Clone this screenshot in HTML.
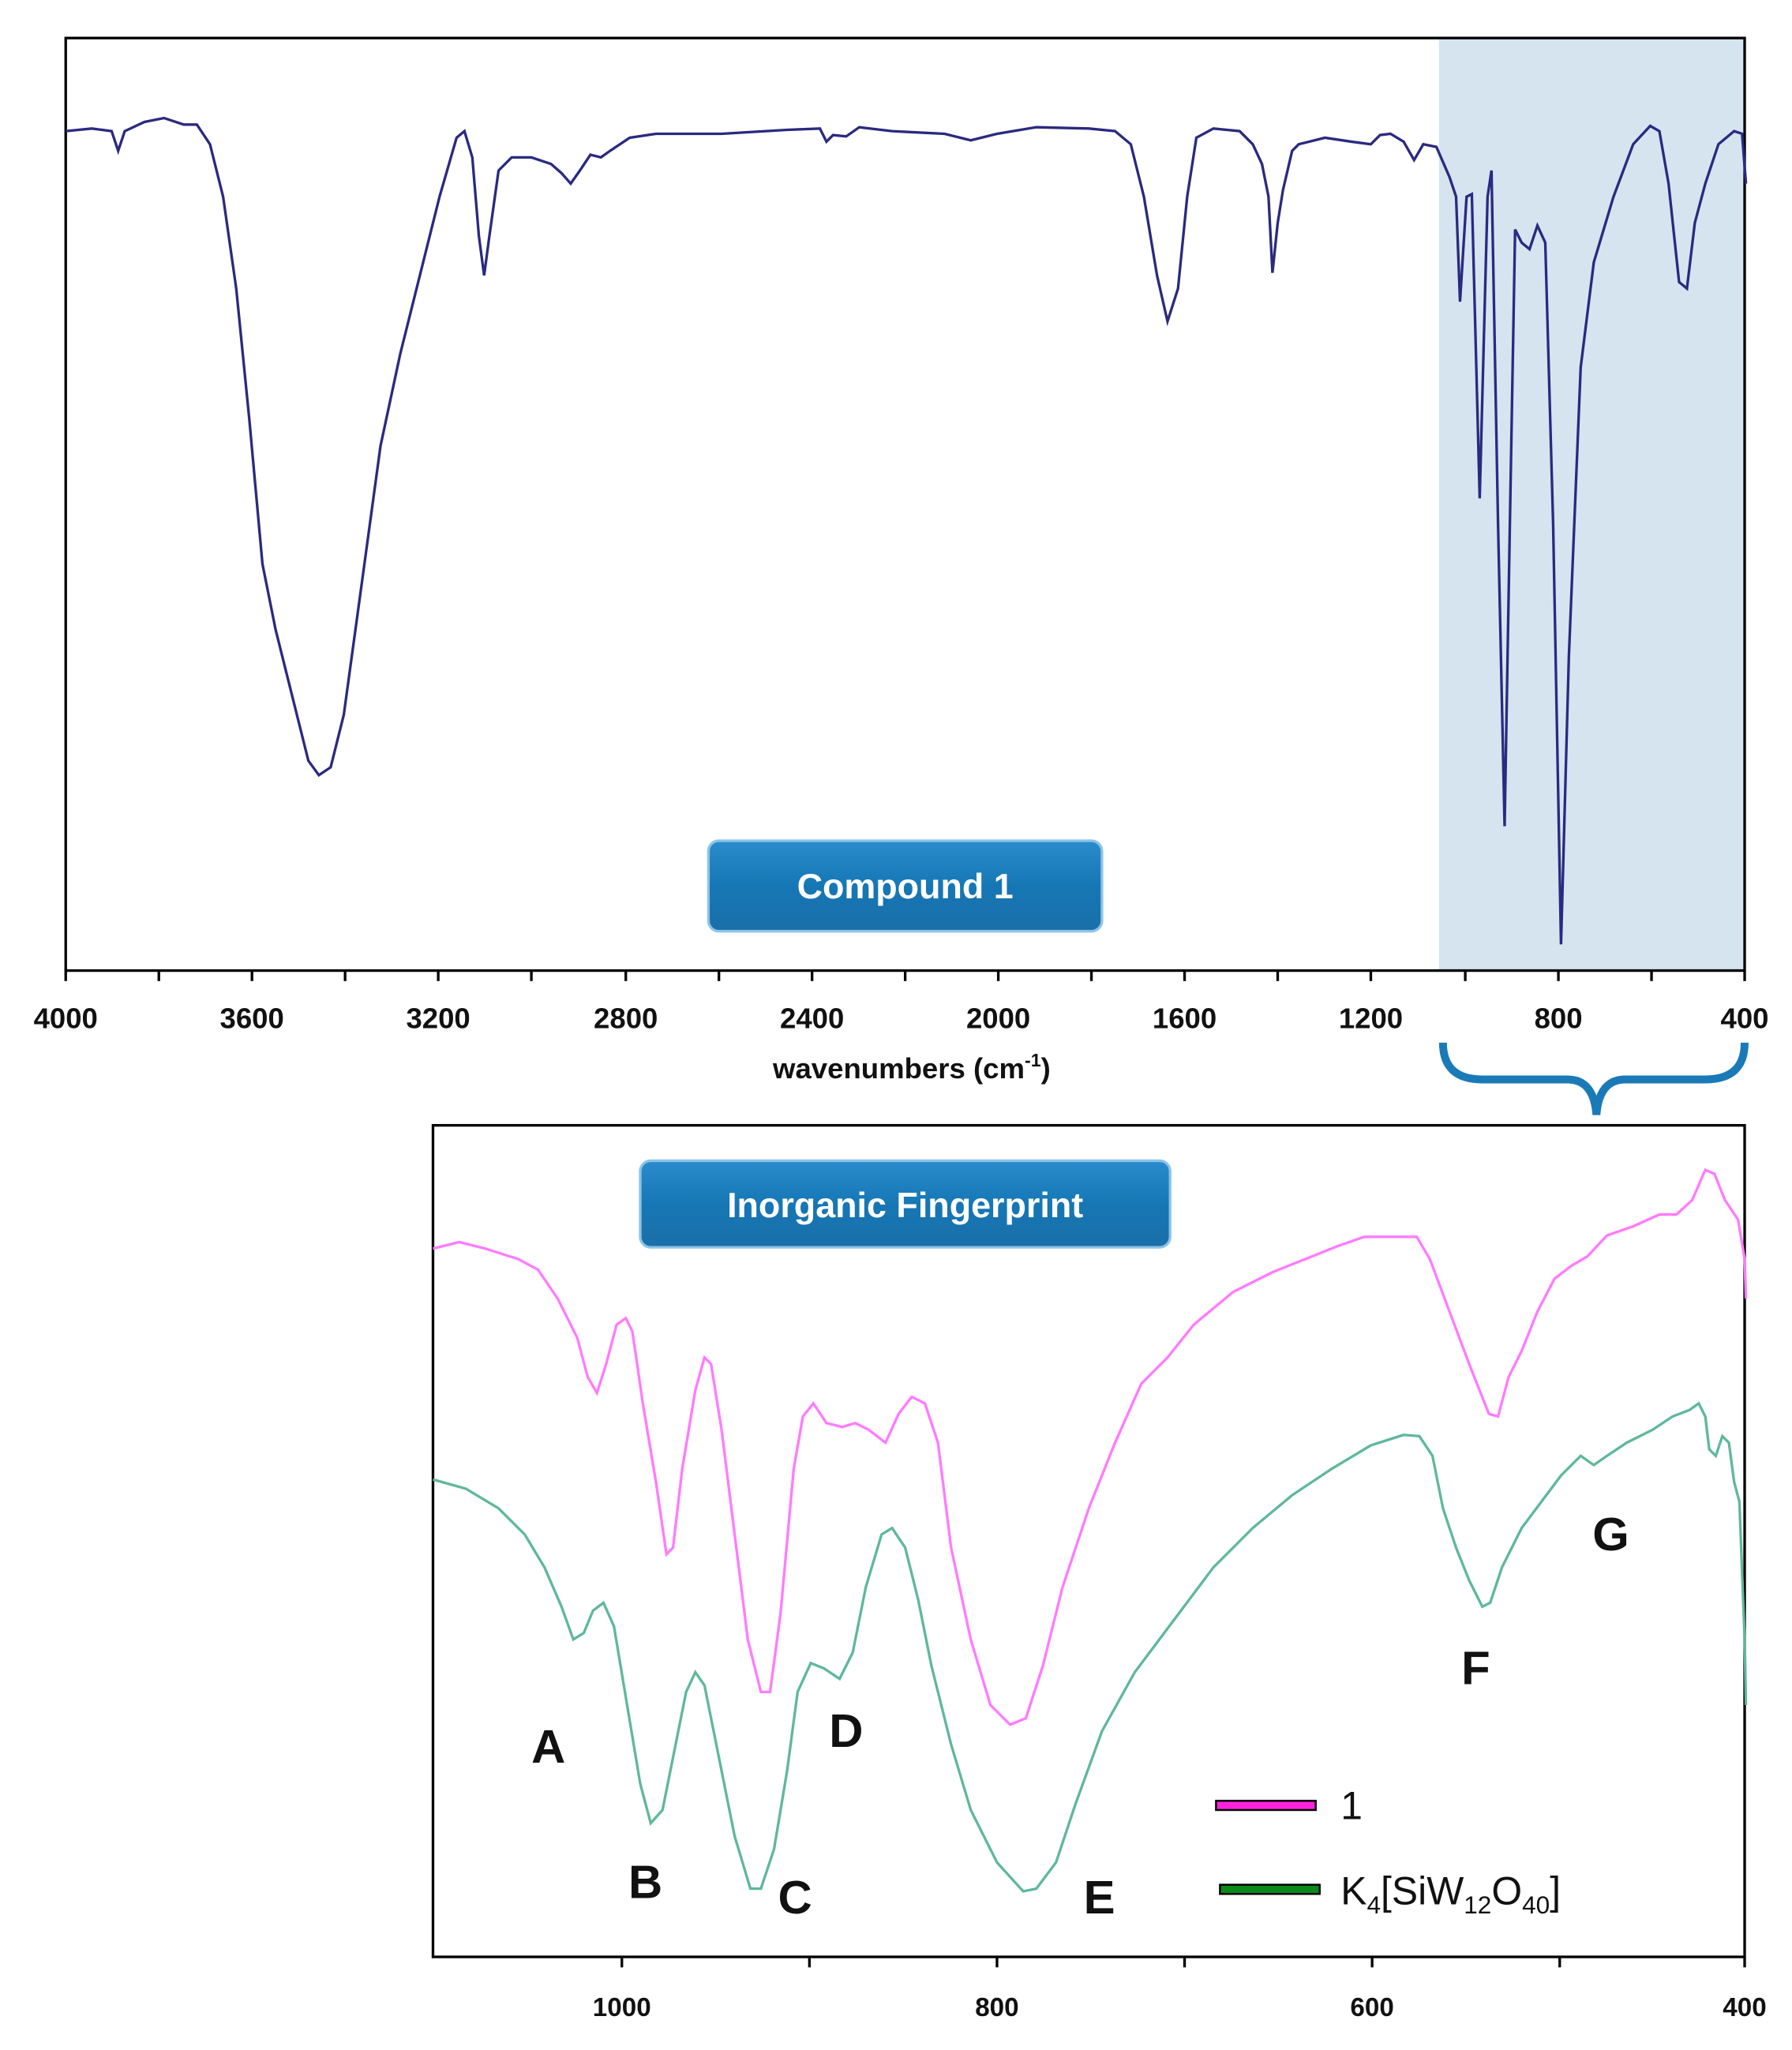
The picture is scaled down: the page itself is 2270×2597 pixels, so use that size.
<!DOCTYPE html>
<html><head><meta charset="utf-8"><style>
html,body{margin:0;padding:0;background:#fff;}
svg{display:block;}
text{font-family:"Liberation Sans",sans-serif;}
</style></head><body>
<svg width="2270" height="2597" viewBox="0 0 1366 1563" xmlns="http://www.w3.org/2000/svg">
<defs>
<linearGradient id="btn" x1="0" y1="0" x2="0" y2="1">
<stop offset="0" stop-color="#2a8ccc"/><stop offset="0.5" stop-color="#1677b5"/><stop offset="1" stop-color="#1a6fa8"/>
</linearGradient>
</defs>
<!-- top plot -->
<rect x="1097" y="29" width="233" height="711" fill="#d6e4f0"/>
<rect x="50" y="29" width="1280" height="711" fill="none" stroke="#000" stroke-width="2"/>
<g stroke="#000" stroke-width="2">
<line x1="50" y1="740" x2="50" y2="748"/><line x1="121" y1="740" x2="121" y2="748"/><line x1="192" y1="740" x2="192" y2="748"/><line x1="263" y1="740" x2="263" y2="748"/><line x1="334" y1="740" x2="334" y2="748"/><line x1="405" y1="740" x2="405" y2="748"/><line x1="477" y1="740" x2="477" y2="748"/><line x1="548" y1="740" x2="548" y2="748"/><line x1="619" y1="740" x2="619" y2="748"/><line x1="690" y1="740" x2="690" y2="748"/><line x1="761" y1="740" x2="761" y2="748"/><line x1="832" y1="740" x2="832" y2="748"/><line x1="903" y1="740" x2="903" y2="748"/><line x1="974" y1="740" x2="974" y2="748"/><line x1="1045" y1="740" x2="1045" y2="748"/><line x1="1117" y1="740" x2="1117" y2="748"/><line x1="1188" y1="740" x2="1188" y2="748"/><line x1="1259" y1="740" x2="1259" y2="748"/><line x1="1330" y1="740" x2="1330" y2="748"/>
</g>
<g font-size="22" font-weight="bold" text-anchor="middle" fill="#111">
<text x="50" y="784">4000</text><text x="192" y="784">3600</text><text x="334" y="784">3200</text><text x="477" y="784">2800</text><text x="619" y="784">2400</text><text x="761" y="784">2000</text><text x="903" y="784">1600</text><text x="1045" y="784">1200</text><text x="1188" y="784">800</text><text x="1330" y="784">400</text>
<text x="695" y="822">wavenumbers (cm<tspan font-size="14" dy="-9">-1</tspan><tspan dy="9">)</tspan></text>
</g>
<polyline fill="none" stroke="#2a2a80" stroke-width="2" points="50,100 70,98 85,100 90,115 95,100 110,93 125,90 140,95 150,95 160,110 170,150 180,220 190,320 200,430 210,480 225,540 235,580 243,591 252,585 262,545 275,450 290,340 305,270 320,210 335,150 348,105 354,100 360,120 365,180 369,210 373,180 380,130 390,120 405,120 420,125 428,132 435,140 442,130 450,118 458,120 465,115 480,105 500,102 550,102 600,99 625,98 630,108 635,103 645,104 655,97 680,100 720,102 740,107 760,102 790,97 830,98 850,100 862,110 872,150 882,210 890,245 898,220 905,150 912,105 925,98 945,100 955,110 962,125 967,150 970,208 974,170 978,145 985,115 990,110 1010,105 1030,108 1045,110 1052,103 1060,102 1070,108 1078,122 1085,110 1095,112 1105,135 1110,150 1113,230 1118,150 1122,148 1128,380 1134,150 1137,130 1142,400 1147,630 1151,400 1155,175 1160,185 1166,190 1172,172 1178,185 1184,400 1190,720 1196,500 1205,280 1215,200 1230,150 1245,110 1258,96 1265,100 1272,140 1280,215 1286,220 1292,170 1300,140 1310,110 1322,100 1328,102 1331,140"/>
<rect x="540" y="641" width="300" height="69" rx="8" fill="url(#btn)" stroke="#8cc4e8" stroke-width="2"/>
<text x="690" y="685" font-size="27" font-weight="bold" fill="#fff" text-anchor="middle">Compound 1</text>
<!-- brace -->
<path d="M1100,795 Q1100,823 1130,823 L1195,823 Q1215,823 1217,850 Q1219,823 1239,823 L1300,823 Q1330,823 1330,795" fill="none" stroke="#1a7ab8" stroke-width="6"/>
<!-- bottom plot -->
<rect x="330" y="858" width="1000" height="634" fill="none" stroke="#000" stroke-width="2"/>
<g stroke="#000" stroke-width="2">
<line x1="474" y1="1492" x2="474" y2="1500"/><line x1="617" y1="1492" x2="617" y2="1500"/><line x1="760" y1="1492" x2="760" y2="1500"/><line x1="903" y1="1492" x2="903" y2="1500"/><line x1="1046" y1="1492" x2="1046" y2="1500"/><line x1="1189" y1="1492" x2="1189" y2="1500"/><line x1="1330" y1="1492" x2="1330" y2="1500"/>
</g>
<g font-size="20" font-weight="bold" text-anchor="middle" fill="#111">
<text x="474" y="1537">1000</text><text x="760" y="1537">800</text><text x="1046" y="1537">600</text><text x="1330" y="1537">400</text>
</g>
<polyline fill="none" stroke="#ff7bff" stroke-width="2" points="330,952 350,947 370,952 395,960 410,968 425,990 440,1020 448,1050 455,1062 462,1040 470,1010 477,1005 482,1015 490,1070 500,1130 508,1185 513,1180 520,1120 530,1060 537,1035 542,1040 550,1090 560,1170 570,1250 580,1290 587,1290 595,1230 605,1120 612,1080 620,1070 630,1085 642,1088 652,1085 662,1090 675,1100 685,1078 695,1065 705,1070 715,1100 725,1180 740,1250 755,1300 770,1315 782,1310 795,1270 810,1210 830,1150 850,1100 870,1055 890,1035 910,1010 940,985 970,970 1000,958 1020,950 1040,943 1080,943 1090,960 1105,1000 1120,1040 1135,1078 1142,1080 1150,1050 1160,1030 1172,1000 1185,975 1198,965 1210,958 1225,942 1245,935 1265,926 1278,926 1290,915 1300,892 1307,895 1315,915 1325,930 1330,960 1331,990"/>
<polyline fill="none" stroke="#5fb89a" stroke-width="2" points="330,1128 355,1135 380,1150 400,1170 415,1195 428,1225 437,1250 445,1245 452,1228 460,1222 468,1240 478,1300 488,1360 496,1390 505,1380 515,1330 523,1290 530,1275 537,1285 548,1340 560,1400 572,1440 580,1440 590,1410 600,1350 608,1290 618,1268 628,1272 640,1280 650,1260 660,1210 672,1170 680,1165 690,1180 700,1220 710,1270 725,1330 740,1380 760,1420 780,1442 790,1440 805,1420 820,1375 840,1320 865,1275 895,1235 925,1195 955,1165 985,1140 1015,1120 1045,1102 1070,1094 1082,1095 1092,1110 1100,1150 1110,1180 1120,1205 1130,1225 1136,1222 1145,1195 1160,1165 1175,1145 1190,1125 1205,1110 1215,1117 1225,1110 1240,1100 1260,1090 1275,1080 1288,1075 1295,1070 1300,1080 1303,1105 1308,1110 1313,1095 1318,1100 1322,1130 1326,1145 1330,1250 1331,1300"/>
<rect x="488" y="885" width="404" height="66" rx="8" fill="url(#btn)" stroke="#8cc4e8" stroke-width="2"/>
<text x="690" y="928" font-size="27" font-weight="bold" fill="#fff" text-anchor="middle">Inorganic Fingerprint</text>
<g font-size="36" font-weight="bold" text-anchor="middle" fill="#111">
<text x="418" y="1344">A</text><text x="492" y="1447">B</text><text x="606" y="1459">C</text><text x="645" y="1332">D</text><text x="838" y="1459">E</text><text x="1125" y="1284">F</text><text x="1228" y="1182">G</text>
</g>
<rect x="927" y="1373" width="76" height="7" fill="#ff22dd" stroke="#000" stroke-width="1.5"/>
<rect x="930" y="1437" width="76" height="7" fill="#0a8a1a" stroke="#000" stroke-width="1.5"/>
<text x="1022" y="1387" font-size="30" fill="#111">1</text>
<text x="1022" y="1452" font-size="30" fill="#111">K<tspan font-size="19" dy="7">4</tspan><tspan dy="-7">[SiW</tspan><tspan font-size="19" dy="7">12</tspan><tspan dy="-7">O</tspan><tspan font-size="19" dy="7">40</tspan><tspan dy="-7">]</tspan></text>
</svg>
</body></html>
